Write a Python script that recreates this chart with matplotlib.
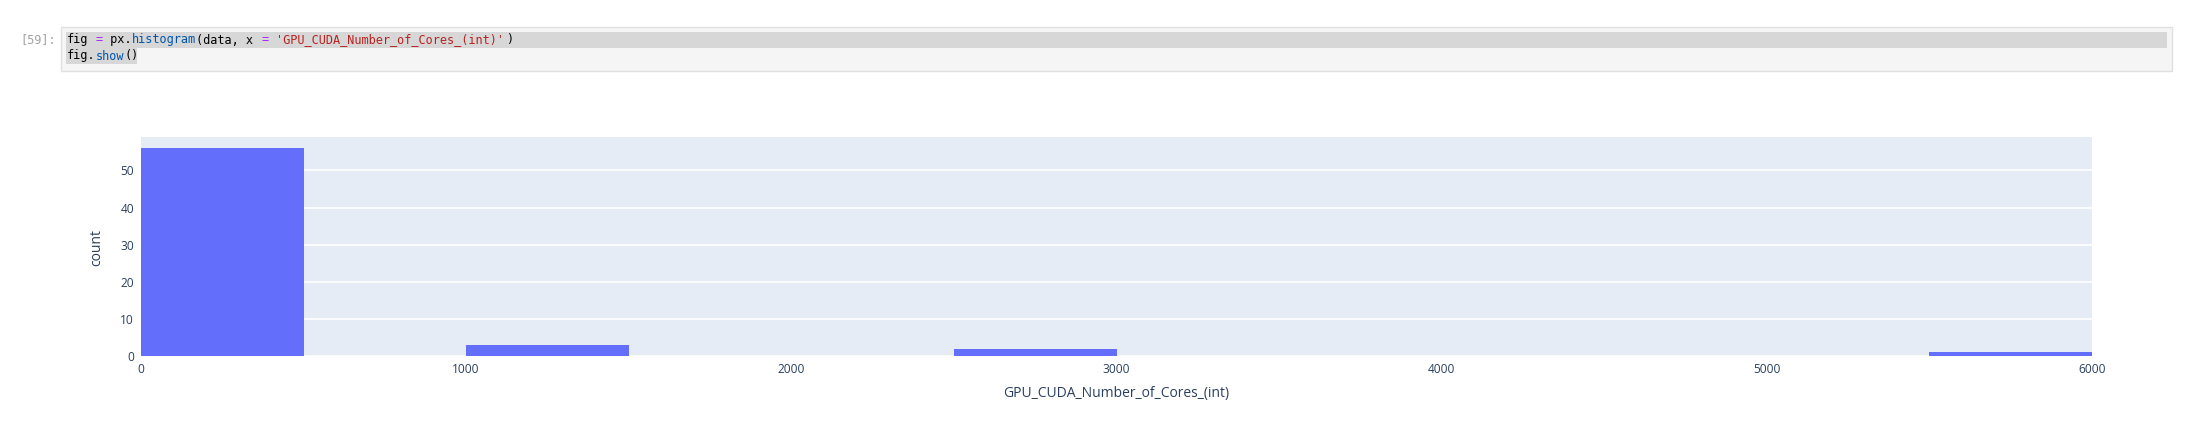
import matplotlib
matplotlib.use("Agg")
import matplotlib.pyplot as plt
from matplotlib.patches import Rectangle

# ── データ（ヒストグラムのビン：左端・度数）──
bin_left = [0, 1000, 2500, 5500]
counts = [56, 3, 2, 1]
bin_width = 500
x_ticks = [0, 1000, 2000, 3000, 4000, 5000, 6000]
y_ticks = [0, 10, 20, 30, 40, 50]
x_title = "GPU_CUDA_Number_of_Cores_(int)"
y_title = "count"
prompt = "[59]:"
code_lines = [
    [("fig", "#000000"), (" ", "#000000"), ("=", "#aa22ff"), (" px.", "#000000"),
     ("histogram", "#0055aa"), ("(data, x ", "#000000"), ("=", "#aa22ff"), (" ", "#000000"),
     ("'GPU_CUDA_Number_of_Cores_(int)'", "#ba2121"), (")", "#000000")],
    [("fig.", "#000000"), ("show", "#0055aa"), ("()", "#000000")],
]

W, H, DPI = 2186, 433, 100
fig = plt.figure(figsize=(W / DPI, H / DPI), dpi=DPI)
fig.patch.set_facecolor("white")


def fx(px):
    return px / W


def fy(py):
    return 1 - py / H


# ── コードセル ──
fig.add_artist(Rectangle((fx(61), fy(71)), fx(2172) - fx(61), fy(27) - fy(71),
                         transform=fig.transFigure, facecolor="#f5f5f5",
                         edgecolor="#e0e0e0", linewidth=1))
fig.add_artist(Rectangle((fx(66), fy(48)), fx(2167) - fx(66), fy(32) - fy(48),
                         transform=fig.transFigure, facecolor="#d7d7d7",
                         edgecolor="none"))
fig.add_artist(Rectangle((fx(66), fy(64)), fx(137) - fx(66), fy(48) - fy(64),
                         transform=fig.transFigure, facecolor="#d7d7d7",
                         edgecolor="none"))
fig.text(fx(20), fy(40), prompt, fontsize=8.6, family="DejaVu Sans Mono",
         color="#a0a0a0", va="center", ha="left")

code_fs = 8.6
char_w = 0.602 * code_fs * DPI / 72
for i, line in enumerate(code_lines):
    col = 0
    y = fy(40 + i * 16)
    for tok, color in line:
        fig.text(fx(67 + col * char_w), y, tok, fontsize=code_fs,
                 family="DejaVu Sans Mono", color=color, va="center", ha="left")
        col += len(tok)

# ── ヒストグラム ──
left, right, top, bottom = 141, 2092, 137, 356
ax = fig.add_axes([fx(left), fy(bottom), fx(right) - fx(left), fy(top) - fy(bottom)])
ax.set_facecolor("#E5ECF6")
ax.bar(bin_left, counts, width=bin_width, align="edge", color="#636EFA",
       linewidth=0, zorder=3)
ax.set_xlim(0, 6000)
ax.set_ylim(0, 59)
ax.set_xticks(x_ticks)
ax.set_yticks(y_ticks)
ax.set_xticklabels([str(t) for t in x_ticks])
ax.set_yticklabels([str(t) for t in y_ticks])
ax.grid(True, axis="y", color="white", linewidth=1.2, zorder=1)
ax.set_axisbelow(True)
for s in ax.spines.values():
    s.set_visible(False)
ax.tick_params(length=0, labelsize=8.6, colors="#2a3f5f", pad=5)
for lbl in ax.get_xticklabels() + ax.get_yticklabels():
    lbl.set_family("Open Sans")

fig.text(fx((left + right) / 2), fy(393), x_title, fontsize=10, family="Open Sans",
         color="#2a3f5f", ha="center", va="center")
fig.text(fx(97), fy(247), y_title, fontsize=10, family="Open Sans",
         color="#2a3f5f", ha="center", va="center", rotation=90)

fig.savefig("out.png", dpi=DPI)
